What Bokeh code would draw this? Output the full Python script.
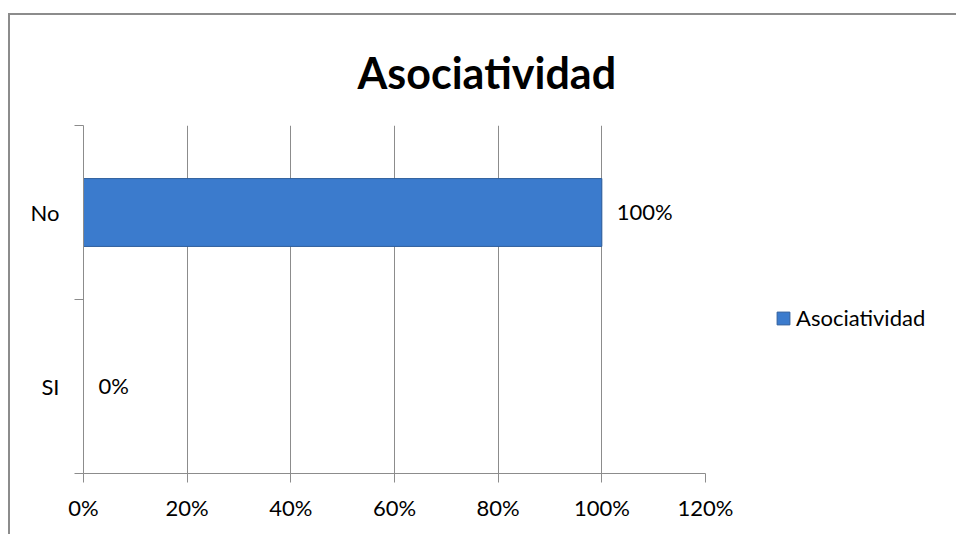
from bokeh.plotting import figure
from bokeh.models import (Range1d, FixedTicker, NumeralTickFormatter, ColumnDataSource,
                          Legend, LegendItem, LabelSet)
from bokeh.core.properties import value
from bokeh.embed import file_html
from bokeh.resources import INLINE

categories = ["SI", "No"]
values = [0.0, 1.0]
value_labels = ["0%", "100%"]
x_ticks = [0, 0.2, 0.4, 0.6, 0.8, 1.0, 1.2]
title_text = "Asociatividad"
series_name = "Asociatividad"

FONT = "Lato"
GRAY = "#8c8c8c"

ypos = [i + 0.5 for i in range(len(categories))]
src = ColumnDataSource(dict(y=ypos, v=values, lab=value_labels, cat=categories))

p = figure(frame_width=622, frame_height=348, output_backend="svg", toolbar_location=None,
           x_range=Range1d(0, 1.2), y_range=Range1d(0, len(categories)),
           min_border_left=73, min_border_right=20, min_border_top=110, min_border_bottom=61)
p.styles = {"border-left": "2px solid #8c8c8c", "border-top": "2px solid #8c8c8c",
            "margin-left": "8px", "margin-top": "13px"}
p.outline_line_color = None
p.background_fill_color = "white"
p.border_fill_color = "white"

p.title.text = title_text
p.title.text_font = FONT
p.title.text_font_style = "bold"
p.title.text_font_size = "43px"
p.title.align = "left"
p.title.offset = 274
p.title.standoff = 56
p.title.text_color = "black"

bars = p.hbar(y="y", right="v", left=0, height=0.39, source=src,
              fill_color="#3b7bcd", line_color="#2f5f9c", line_width=1)

# x axis
xa = p.xaxis[0]
xa.ticker = FixedTicker(ticks=x_ticks, minor_ticks=[])
xa.formatter = NumeralTickFormatter(format="0%")
xa.axis_line_color = GRAY
xa.major_tick_line_color = GRAY
xa.major_tick_out = 9
xa.major_tick_in = 0
xa.minor_tick_line_color = None
xa.major_label_text_font = FONT
xa.major_label_text_font_size = "22px"
xa.major_label_text_color = "black"
xa.major_label_standoff = 11

# y axis
ya = p.yaxis[0]
ya.ticker = FixedTicker(ticks=ypos, minor_ticks=list(range(len(categories) + 1)))
ya.major_label_overrides = {y: c for y, c in zip(ypos, categories)}
ya.axis_line_color = GRAY
ya.major_tick_line_color = None
ya.major_tick_out = 0
ya.major_tick_in = 0
ya.minor_tick_line_color = GRAY
ya.minor_tick_out = 9
ya.minor_tick_in = 0
ya.major_label_text_font = FONT
ya.major_label_text_font_size = "22px"
ya.major_label_text_color = "black"
ya.major_label_standoff = 15

p.xgrid.grid_line_color = GRAY
p.xgrid.ticker = FixedTicker(ticks=x_ticks)
p.ygrid.grid_line_color = None

labels = LabelSet(x="v", y="y", text="lab", source=src, x_offset=15, y_offset=1,
                  text_font=value(FONT), text_font_size=value("22px"),
                  text_baseline="middle", text_color="black")
p.add_layout(labels)

legend = Legend(items=[LegendItem(label=series_name, renderers=[bars])],
                location=(70, 142), glyph_width=16, glyph_height=16, padding=0,
                margin=0, label_standoff=5, border_line_color=None,
                background_fill_alpha=0, label_text_font=FONT,
                label_text_font_size="22px", label_text_color="black")
p.add_layout(legend, "right")

open("out.html", "w").write(file_html(p, INLINE))
